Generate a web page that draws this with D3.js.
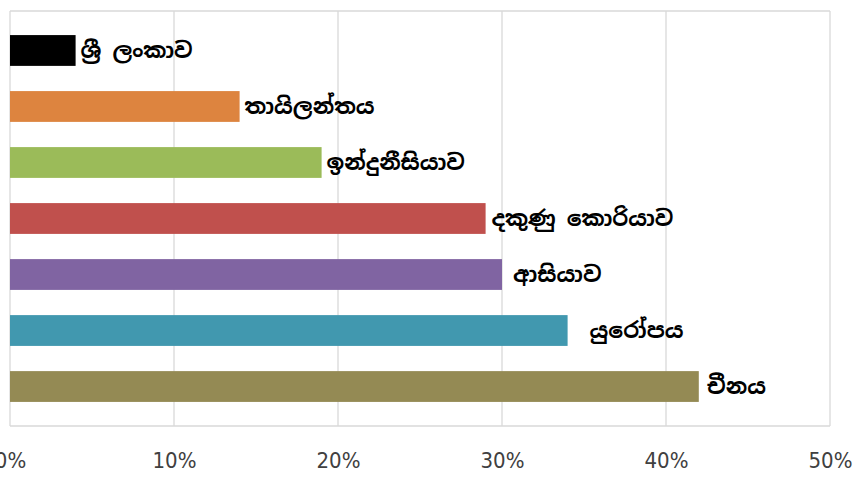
<!DOCTYPE html>
<html>
<head>
<meta charset="utf-8">
<script src="https://cdn.jsdelivr.net/npm/d3@7"></script>
<style>
  body { margin: 0; background: #fff; }
  .axisLabel { font-family: "DejaVu Sans Condensed", "Liberation Sans Narrow", sans-serif; font-stretch: condensed; font-size: 22px; fill: #404040; }
  .barLabel { font-family: "Noto Sans Sinhala", "Iskoola Pota", "Noto Sans", sans-serif; font-size: 22px; font-weight: bold; fill: #000; }
</style>
</head>
<body>
<div id="chart"></div>
<script>
// categories top to bottom
var countries = ["ශ්‍රී ලංකාව", "තායිලන්තය", "ඉන්දුනීසියාව", "දකුණු කොරියාව", "ආසියාව", "යුරෝපය", "චීනය"];
var shares = [4, 14, 19, 29, 30, 34, 42];
var colours = ["#000000", "#dd843f", "#9bbb59", "#c0504d", "#8064a2", "#4198af", "#948a54"];
var ticks = [0, 10, 20, 30, 40, 50];

// gap between bar end and its label (a few labels were nudged right in the original)
var labelGap = [5, 5, 5, 6, 11, 22, 8];

var margin = {top: 11, right: 28, bottom: 51, left: 10};
var width = 858 - margin.left - margin.right,
    height = 477 - margin.top - margin.bottom;

var svg = d3.select("#chart").append("svg")
    .attr("width", 858)
    .attr("height", 477)
  .append("g")
    .attr("transform", "translate(" + margin.left + "," + margin.top + ")");

var x = d3.scaleLinear()
    .domain([0, 50])
    .range([0, width]);

var y = d3.scaleBand()
    .domain(countries)
    .range([0, height])
    .paddingInner(0.45)
    .paddingOuter(0.43);

// gridlines
svg.selectAll(".grid")
    .data(ticks)
    .enter().append("line")
    .attr("class", "grid")
    .attr("x1", function(d) { return x(d); })
    .attr("x2", function(d) { return x(d); })
    .attr("y1", 0)
    .attr("y2", height)
    .attr("stroke", "#d9d9d9")
    .attr("stroke-width", 1.3);

svg.append("line")
    .attr("x1", 0).attr("x2", width)
    .attr("y1", 0).attr("y2", 0)
    .attr("stroke", "#d9d9d9").attr("stroke-width", 1.3);
svg.append("line")
    .attr("x1", 0).attr("x2", width)
    .attr("y1", height).attr("y2", height)
    .attr("stroke", "#d9d9d9").attr("stroke-width", 1.3);

// bars
svg.selectAll(".bar")
    .data(countries)
    .enter().append("rect")
    .attr("class", "bar")
    .attr("x", x(0))
    .attr("y", function(d) { return y(d); })
    .attr("height", y.bandwidth())
    .attr("width", function(d, i) { return x(shares[i]) - x(0); })
    .attr("fill", function(d, i) { return colours[i]; });

// labels
svg.selectAll(".barLabel")
    .data(countries)
    .enter().append("text")
    .attr("class", "barLabel")
    .attr("x", function(d, i) { return x(shares[i]) + labelGap[i]; })
    .attr("y", function(d) { return y(d) + y.bandwidth() / 2; })
    .attr("dy", "0.35em")
    .text(function(d) { return d; });

// x axis
var xAxis = d3.axisBottom(x)
    .tickValues(ticks)
    .tickSize(0)
    .tickPadding(0)
    .tickFormat(function(d) { return d + "%"; });

var gx = svg.append("g")
    .attr("transform", "translate(0," + height + ")")
    .call(xAxis);
gx.select(".domain").remove();
gx.attr("font-size", null).attr("font-family", null);
gx.selectAll("text")
    .attr("class", "axisLabel")
    .attr("y", 42)
    .attr("dy", null);
</script>
</body>
</html>
